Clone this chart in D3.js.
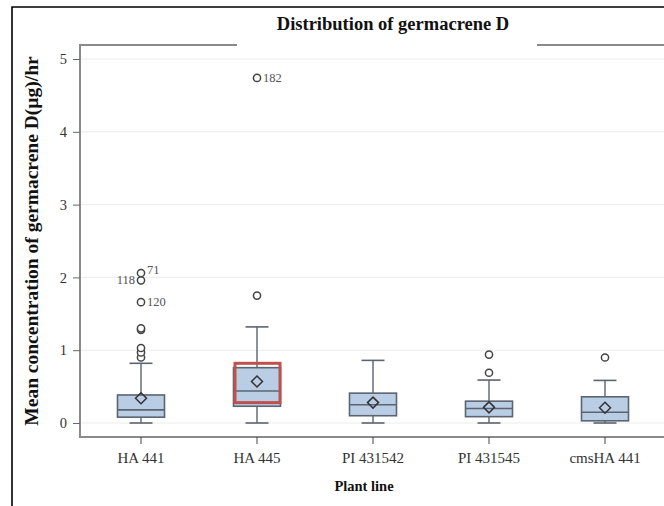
<!DOCTYPE html>
<html>
<head>
<meta charset="utf-8">
<script src="https://cdn.jsdelivr.net/npm/d3@7/dist/d3.min.js"></script>
<style>
  html, body { margin: 0; padding: 0; background: #fff; }
  svg { display: block; font-family: "Liberation Serif", "Times New Roman", serif; }
</style>
</head>
<body>
<svg id="chart" width="664" height="506"></svg>
<script>
// Germacrene D emission by plant line: box summaries
const categories = ["HA 441", "HA 445", "PI 431542", "PI 431545", "cmsHA 441"];
const whiskerLow  = [0, 0, 0, 0, 0];
const q1          = [0.08, 0.23, 0.10, 0.087, 0.03];
const median      = [0.18, 0.44, 0.25, 0.20, 0.147];
const q3          = [0.385, 0.76, 0.41, 0.30, 0.36];
const whiskerHigh = [0.82, 1.32, 0.86, 0.59, 0.585];
const mean        = [0.34, 0.57, 0.28, 0.215, 0.21];

// Outlying observations (category index, value, observation id, label side)
const outlierGroup = [0, 0, 0, 0, 0, 0, 0, 0, 1, 1, 3, 3, 4];
const outlierValue = [0.90, 0.97, 1.03, 1.28, 1.30, 1.66, 1.96, 2.06, 1.75, 4.74, 0.69, 0.94, 0.90];
const outlierId    = ["", "", "", "", "", "120", "118", "71", "", "182", "", "", ""];
const outlierSide  = ["", "", "", "", "", "right", "left", "rightUp", "", "right", "", "", ""];

const yTicks = [0, 1, 2, 3, 4, 5];

// Highlighted interquartile region of HA 445
const highlightGroup = 1;
const highlightTop = 0.82;
const highlightBottom = 0.28;

const svg = d3.select("#chart");
const W = 664, H = 506;
const frame = { left: 80, top: 45, bottom: 437, right: 668 };

const x = d3.scaleBand().domain(categories).range([83, 663]);
const y = d3.scaleLinear().domain([0, 5]).range([423, 59]);
const cx = c => x(c) + x.bandwidth() / 2;
const boxW = 47, capW = 23;

// outer page border
svg.append("path")
  .attr("d", `M12,${H} L12,7 L${W},7`)
  .attr("fill", "none").attr("stroke", "#000").attr("stroke-width", 1.6);

// grid lines
svg.append("g").selectAll("line").data(yTicks).join("line")
  .attr("x1", frame.left).attr("x2", frame.right)
  .attr("y1", d => y(d)).attr("y2", d => y(d))
  .attr("stroke", "#ececec").attr("stroke-width", 1);

// plot frame
svg.append("path")
  .attr("d", `M${frame.right},${frame.top} L${frame.left},${frame.top} L${frame.left},${frame.bottom} L${frame.right},${frame.bottom}`)
  .attr("fill", "none").attr("stroke", "#8a8a8a").attr("stroke-width", 2);

// y axis
const yAxis = svg.append("g").attr("transform", `translate(${frame.left},0)`)
  .call(d3.axisLeft(y).tickValues(yTicks).tickSize(7).tickPadding(6).tickFormat(d3.format("d")));
yAxis.select(".domain").remove();
yAxis.selectAll(".tick line").attr("stroke", "#666");
yAxis.selectAll(".tick text").attr("fill", "#333").style("font-size", "14.5px")
  .style("font-family", "Liberation Serif, serif");

// x axis
const xAxis = svg.append("g").attr("transform", `translate(0,${frame.bottom})`)
  .call(d3.axisBottom(x).tickSize(7).tickPadding(8));
xAxis.select(".domain").remove();
xAxis.selectAll(".tick line").attr("stroke", "#444");
xAxis.selectAll(".tick text").attr("fill", "#333").style("font-size", "15px")
  .style("font-family", "Liberation Serif, serif");

// boxes
const g = svg.append("g");
const stroke = "#5b6470";
categories.forEach((c, i) => {
  const xc = cx(c);
  // whiskers
  g.append("line").attr("x1", xc).attr("x2", xc).attr("y1", y(q3[i])).attr("y2", y(whiskerHigh[i]))
    .attr("stroke", stroke).attr("stroke-width", 1.4);
  g.append("line").attr("x1", xc).attr("x2", xc).attr("y1", y(q1[i])).attr("y2", y(whiskerLow[i]))
    .attr("stroke", stroke).attr("stroke-width", 1.4);
  [whiskerHigh[i], whiskerLow[i]].forEach(v => {
    g.append("line").attr("x1", xc - capW / 2).attr("x2", xc + capW / 2)
      .attr("y1", y(v)).attr("y2", y(v)).attr("stroke", stroke).attr("stroke-width", 1.6);
  });
  // box
  g.append("rect").attr("x", xc - boxW / 2).attr("width", boxW)
    .attr("y", y(q3[i])).attr("height", y(q1[i]) - y(q3[i]))
    .attr("fill", "#b9cde5").attr("stroke", stroke).attr("stroke-width", 1.6);
  // median
  g.append("line").attr("x1", xc - boxW / 2).attr("x2", xc + boxW / 2)
    .attr("y1", y(median[i])).attr("y2", y(median[i]))
    .attr("stroke", stroke).attr("stroke-width", 1.6);
  // mean diamond
  const d = 5.5, my = y(mean[i]);
  g.append("path")
    .attr("d", `M${xc},${my - d} L${xc + d},${my} L${xc},${my + d} L${xc - d},${my} Z`)
    .attr("fill", "none").attr("stroke", "#333").attr("stroke-width", 1.5);
});

// highlight frame
{
  const xc = cx(categories[highlightGroup]);
  svg.append("rect")
    .attr("x", xc - boxW / 2 + 1.5).attr("width", boxW - 2)
    .attr("y", y(highlightTop)).attr("height", y(highlightBottom) - y(highlightTop))
    .attr("fill", "none").attr("stroke", "#c0504d").attr("stroke-width", 3);
}

// outliers
outlierValue.forEach((v, k) => {
  const xc = cx(categories[outlierGroup[k]]), py = y(v);
  svg.append("circle").attr("cx", xc).attr("cy", py).attr("r", 3.6)
    .attr("fill", "#fff").attr("stroke", "#444").attr("stroke-width", 1.5);
  if (outlierId[k]) {
    const side = outlierSide[k];
    const t = svg.append("text").text(outlierId[k])
      .attr("fill", "#555").style("font-size", "12.5px")
      .attr("dominant-baseline", "central");
    if (side === "left") t.attr("x", xc - 6).attr("y", py).attr("text-anchor", "end");
    else if (side === "rightUp") t.attr("x", xc + 6).attr("y", py - 3);
    else t.attr("x", xc + 6).attr("y", py);
  }
});

// white backing that interrupts the frame under the title
svg.append("rect")
  .attr("x", 237).attr("y", 38).attr("width", 300).attr("height", 12).attr("fill", "#fff");
svg.append("text").text("Distribution of germacrene D")
  .attr("x", 393).attr("y", 30).attr("text-anchor", "middle")
  .style("font-size", "18.5px").style("font-weight", "bold").attr("fill", "#111");

// axis titles
svg.append("text").text("Plant line")
  .attr("x", 364).attr("y", 491).attr("text-anchor", "middle")
  .style("font-size", "14.5px").style("font-weight", "bold").attr("fill", "#111");
svg.append("text").text("Mean concentration of germacrene D(µg)/hr")
  .attr("transform", "translate(38,241) rotate(-90)").attr("text-anchor", "middle")
  .style("font-size", "19.5px").style("font-weight", "bold").attr("fill", "#111");
</script>
</body>
</html>
